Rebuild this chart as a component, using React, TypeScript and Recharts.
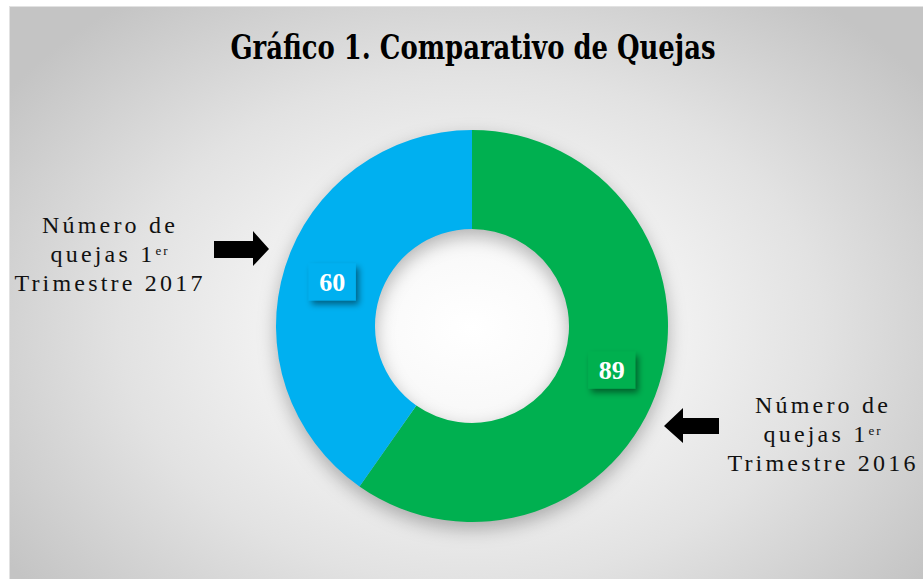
import React from "react";
import { PieChart, Pie, Cell } from "recharts";

const categories = ["Número de quejas 1er Trimestre 2016", "Número de quejas 1er Trimestre 2017"];
const values = [89, 60];
const colors = ["#00B050", "#00B0F0"];
const title = "Gráfico 1. Comparativo de Quejas";

const data = categories.map((name, i) => ({ name, value: values[i], fill: colors[i] }));

const W = 914;
const H = 573;
const RAD = Math.PI / 180;

const renderLabel = (props: any) => {
  const { cx, cy, midAngle, innerRadius, outerRadius, value, index } = props;
  const r = (innerRadius + outerRadius) / 2;
  const x = cx + r * Math.cos(-midAngle * RAD);
  const y = cy + r * Math.sin(-midAngle * RAD);
  const bw = 47;
  const bh = 37;
  return (
    <g>
      <rect x={x - bw / 2} y={y - bh / 2} width={bw} height={bh} fill={colors[index]} filter="url(#boxShadow)" />
      <text
        x={x}
        y={y + 9}
        textAnchor="middle"
        fill="#ffffff"
        fontFamily="'Liberation Serif', serif"
        fontWeight="bold"
        fontSize={26}
      >
        {value}
      </text>
    </g>
  );
};

const SideLabel = ({ cx, y0, year }: { cx: number; y0: number; year: string }) => {
  const common = {
    x: cx,
    textAnchor: "middle" as const,
    fontFamily: "'Liberation Serif', serif",
    fontSize: 24,
    letterSpacing: 3.2,
    fill: "#111",
  };
  return (
    <g>
      <text {...common} y={y0}>Número de</text>
      <text {...common} y={y0 + 29}>
        quejas 1<tspan fontSize={13} dy={-7} letterSpacing={2}>er</tspan>
      </text>
      <text {...common} y={y0 + 58}>{"Trimestre " + year}</text>
    </g>
  );
};

export default function App() {
  return (
    <div
      style={{
        position: "absolute",
        left: 9,
        top: 6,
        width: W,
        height: H,
        boxSizing: "border-box",
        borderTop: "1px solid #e2e2e2",
        borderLeft: "1px solid #e2e2e2",
        background:
          "radial-gradient(ellipse 62% 72% at 50.5% 56%, #ffffff 0%, #f6f6f6 28%, #e2e2e2 62%, #c4c4c4 100%)",
        overflow: "hidden",
      }}
    >
      <style>{`.recharts-pie { filter: drop-shadow(0px 7px 9px rgba(0,0,0,0.28)); }`}</style>
      <svg width={0} height={0} style={{ position: "absolute" }}>
        <defs>
          <filter id="boxShadow" x="-30%" y="-30%" width="170%" height="170%">
            <feDropShadow dx={3} dy={4} stdDeviation={3} floodColor="#000" floodOpacity={0.45} />
          </filter>
        </defs>
      </svg>
      <PieChart width={W} height={H} style={{ position: "absolute", left: 0, top: 0 }}>
        <Pie
          data={data}
          dataKey="value"
          nameKey="name"
          cx={457}
          cy={314}
          innerRadius={97}
          outerRadius={196}
          startAngle={90}
          endAngle={-270}
          stroke="none"
          label={renderLabel}
          labelLine={false}
          isAnimationActive={false}
        >
          {data.map((d, i) => (
            <Cell key={i} fill={d.fill} />
          ))}
        </Pie>
      </PieChart>
      <svg width={W} height={H} style={{ position: "absolute", left: 0, top: 0, pointerEvents: "none" }}>
        <text
          x={463}
          y={52}
          textAnchor="middle"
          fontFamily="'DejaVu Serif', serif"
          fontWeight="bold"
          fontSize={33}
          textLength={485}
          lengthAdjust="spacingAndGlyphs"
          fill="#000"
        >
          {title}
        </text>
        <SideLabel cx={100} y0={226} year="2017" />
        <SideLabel cx={813} y0={406} year="2016" />
        <polygon points="204,234 243,234 243,224 259,242 243,259 243,251 204,251" fill="#000" />
        <polygon points="709,411 673,411 673,401 654,419 673,436 673,427 709,427" fill="#000" />
      </svg>
    </div>
  );
}
